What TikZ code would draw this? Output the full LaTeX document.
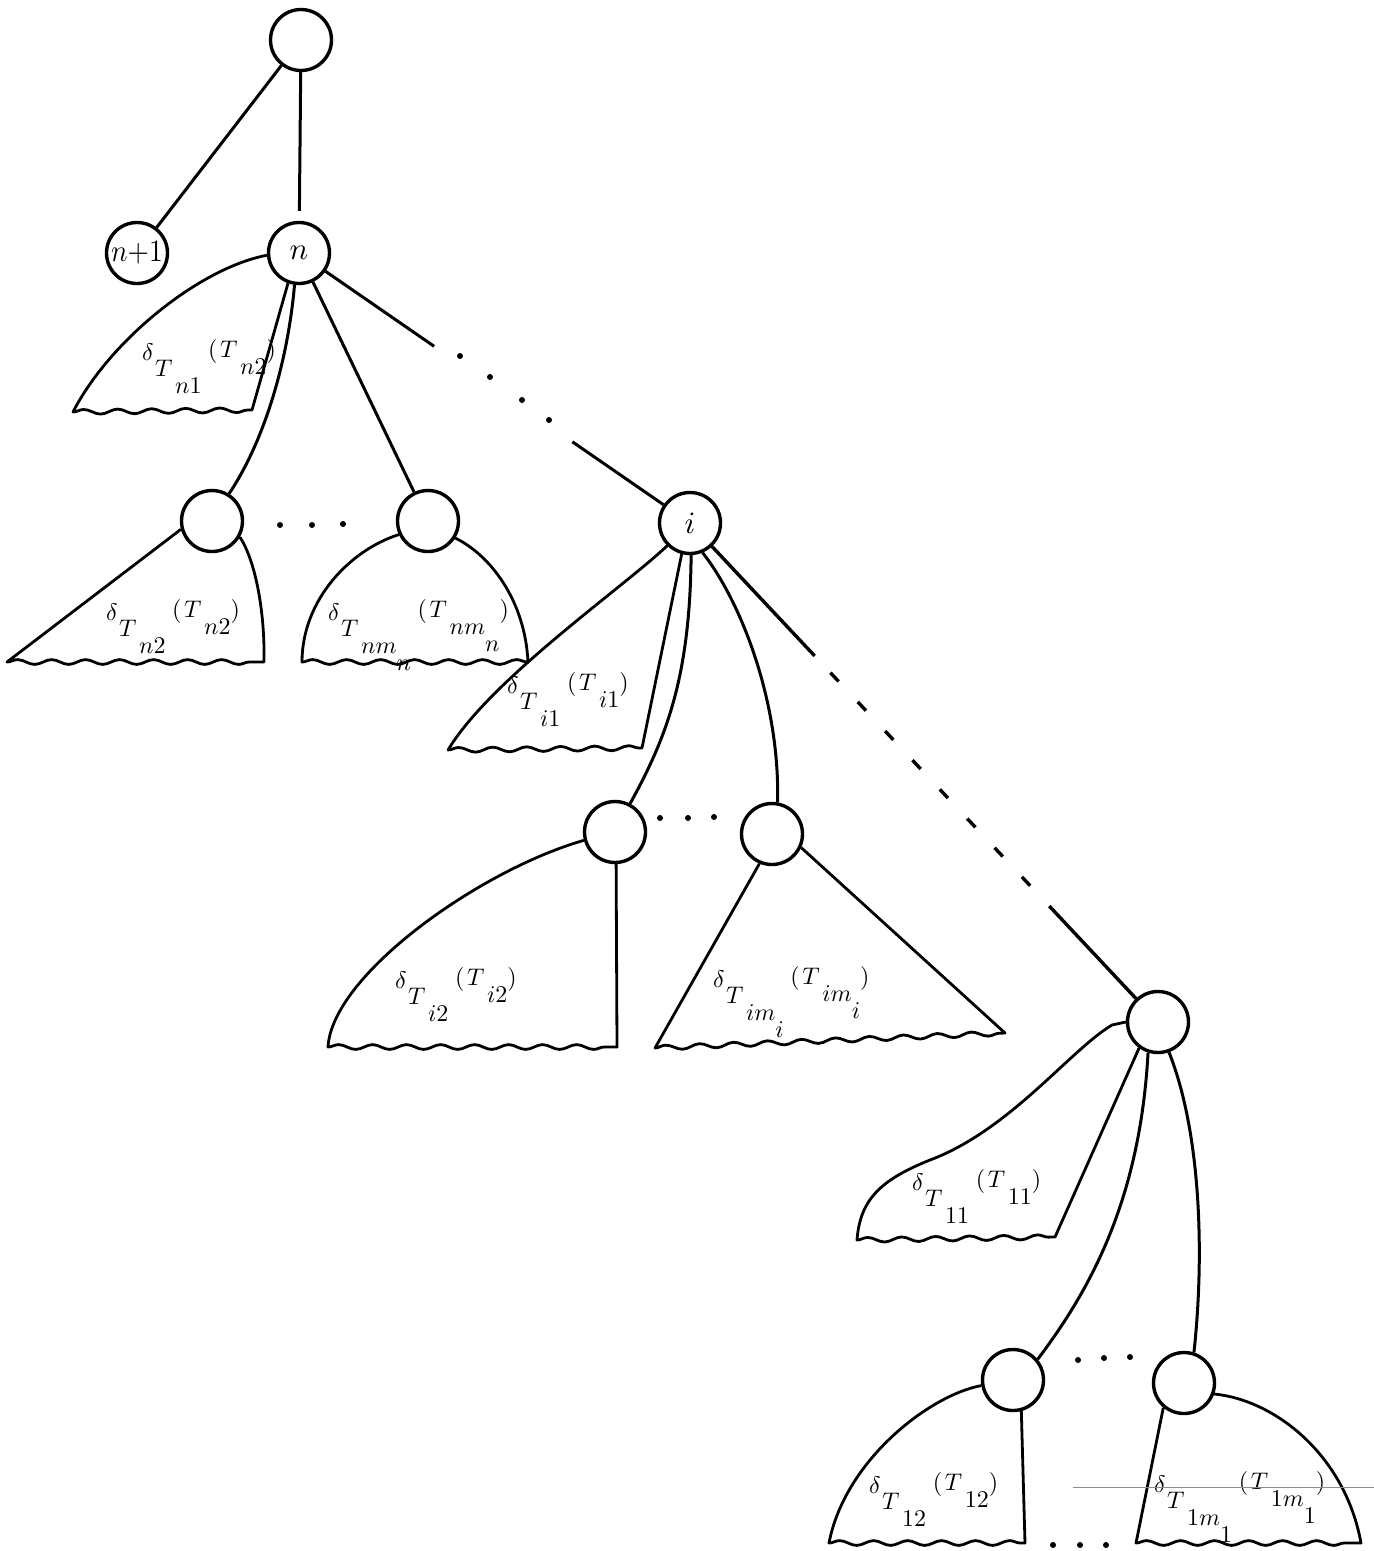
\documentclass[tikz,border=0pt]{standalone}
\usepackage{graphicx}
\usetikzlibrary{decorations.pathmorphing}
\newcommand{\lo}[1]{\raisebox{-0.7em}{$#1$}}
\newcommand{\dlab}[2]{\scalebox{2.4}{$\delta\lo{\mkern1mu T\lo{\mkern2mu #1}}\mkern5mu\raisebox{0.1em}{$(\mkern2mu T\lo{\mkern2mu #2})$}$}}
\begin{document}
\begin{tikzpicture}[x=1pt,y=-1pt,
  vert/.style={circle,draw,line width=3.4pt,minimum size=61pt,inner sep=0pt},
  conn/.style={line width=3pt},
  tri/.style={line width=2.8pt,line join=round},
  wave/.style={decoration={snake,amplitude=2.4pt,segment length=34pt}},
  lab/.style={anchor=base west,inner sep=0pt}]
\fill[white] (0,0) rectangle (1374,1551);
\useasboundingbox (0,0) rectangle (1374,1551);

% vertices
\node[vert] (r) at (301,40) {};
\node[vert] (np) at (137,253) {\scalebox{2.75}[3.1]{$n{+}1$}};
\node[vert] (n) at (299,253) {\scalebox{3.1}{$n$}};
\node[vert] (a) at (212,521) {};
\node[vert] (b) at (428,521) {};
\node[vert] (i) at (690,523) {\scalebox{3.1}{$i$}};
\node[vert] (c) at (615,832) {};
\node[vert] (d) at (772,834) {};
\node[vert] (e) at (1158,1022) {};
\node[vert] (f) at (1013,1380) {};
\node[vert] (g) at (1184,1383) {};

% connectors
\draw[conn] (r) -- (np);
\draw[conn,shorten >=10pt] (r) -- (n);
\draw[conn] (n.262) .. controls (288,360) and (265,440) .. (a.58);
\draw[conn] (n) -- (b);
\draw[conn,dash pattern=on 132pt off 168pt on 400pt off 10pt] (n) -- (i);
\fill (460,356) circle (3pt) (490,377) circle (3pt) (522,400) circle (3pt) (549,420) circle (3pt);
\draw[conn] (i.272) .. controls (690,680) and (665,740) .. (c.62);
\draw[conn] (i.293) .. controls (740,600) and (780,700) .. (d.80);
\draw[conn,line width=3.4pt,dash pattern=on 150pt off 23pt on 12pt off 28pt on 12pt off 28pt on 12pt off 28pt on 12pt off 28pt on 12pt off 28pt on 12pt off 28pt on 12pt off 28pt on 12pt off 28pt on 400pt off 10pt] (i) -- (e);
\draw[conn] (e.252) .. controls (1140,1200) and (1090,1290) .. (f.40);
\draw[conn] (e.290) .. controls (1200,1130) and (1205,1250) .. (g.72);

% sibling dots
\fill (280,525) circle (3pt) (312,525) circle (3pt) (343,524) circle (3pt);
\fill (660,818) circle (3pt) (688,818) circle (3pt) (714,817) circle (3pt);
\fill (1078,1360) circle (3pt) (1104,1358) circle (3pt) (1130,1357) circle (3pt);
\fill (1053,1545) circle (3pt) (1080,1545) circle (3pt) (1106,1545) circle (3pt);

% subtrees
\draw[tri] (n.184) .. controls (200,268) and (110,340) .. (73,412) decorate[wave]{-- (252,410)} -- (n.250);
\draw[tri] (a.195) -- (7,662) decorate[wave]{-- (264,662)} .. controls (265,610) and (255,560) .. (a.330);
\draw[tri] (b.205) .. controls (350,550) and (302,600) .. (302,662) decorate[wave]{-- (528,662)} .. controls (525,600) and (490,555) .. (b.328);
\draw[tri] (i.225) .. controls (620,590) and (490,680) .. (448,750) decorate[wave]{-- (642,748)} -- (i.255);
\draw[tri] (c.195) .. controls (480,870) and (332,975) .. (328,1047) decorate[wave]{-- (617,1047)} -- (c.272);
\draw[tri] (d.247) -- (655,1048) decorate[wave]{-- (1005,1033)} -- (d.335);
\draw[tri] (e.180) -- (1112,1025) .. controls (1070,1050) and (1010,1130) .. (930,1160) .. controls (880,1180) and (860,1200) .. (857,1240) decorate[wave]{-- (1055,1237)} -- (e.234);
\draw[tri] (f.190) .. controls (930,1395) and (845,1460) .. (829,1543) decorate[wave]{-- (1025,1543)} -- (f.285);
\draw[tri] (g.230) -- (1136,1543) decorate[wave]{-- (1361,1543)} .. controls (1345,1455) and (1275,1400) .. (g.340);

% labels
\node[lab] (l1) at (142,360) {\dlab{n1}{n2}};
\node[lab] (l2) at (106,620) {\dlab{n2}{n2}};
\node[lab] (l3) at (328,620) {\dlab{nm\lo{n}}{nm\lo{n}}};
\node[lab] (l4) at (507,693) {\dlab{i1}{i1}};
\node[lab] (l5) at (395,988) {\dlab{i2}{i2}};
\node[lab] (l6) at (713,987) {\dlab{im\lo{i}}{im\lo{i}}};
\node[lab] (l7) at (912,1190) {\dlab{11}{11}};
\node[lab] (l8) at (869,1493) {\dlab{12}{12}};
\node[lab] (l9) at (1154,1492) {\dlab{1m\lo{1}}{1m\lo{1}}};

% scan line
\draw[black!45,line width=0.7pt] (1073,1487) -- (1374,1487);
\end{tikzpicture}
\end{document}
